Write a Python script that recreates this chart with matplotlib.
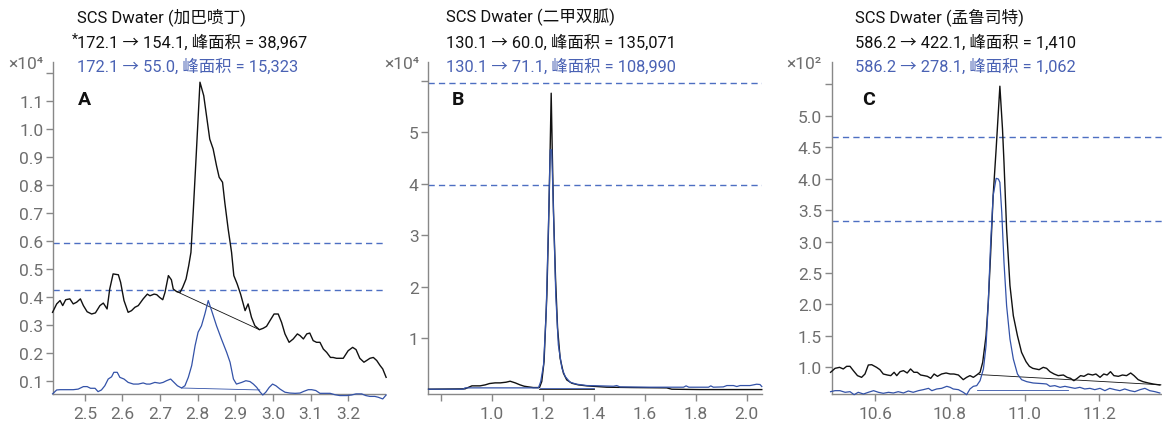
import matplotlib
matplotlib.use("Agg")
import matplotlib.pyplot as plt

FONTS = ["Roboto", "Noto Sans CJK SC", "DejaVu Sans"]
plt.rcParams["font.family"] = FONTS

BLACK = "#111111"
BLUE = "#3352a8"
TEXT_BLUE = "#4a62b4"
DASH = "#4d6fc2"
GREY = "#6e6e6e"
SPINE = "#888888"

# --- A: gabapentin (x10^4 counts) ---
a_black_t = [2.414, 2.425, 2.434, 2.441, 2.449, 2.460, 2.469, 2.478, 2.488, 2.496, 2.506, 2.518,
             2.528, 2.540, 2.549, 2.559, 2.566, 2.575, 2.589, 2.595, 2.604, 2.615, 2.624, 2.633,
             2.642, 2.655, 2.666, 2.673, 2.684, 2.691, 2.699, 2.707, 2.713, 2.722, 2.730, 2.735,
             2.744, 2.753, 2.760, 2.769, 2.776, 2.782, 2.788, 2.795, 2.806, 2.816, 2.832, 2.841,
             2.850, 2.857, 2.866, 2.872, 2.881, 2.890, 2.896, 2.905, 2.914, 2.926, 2.934, 2.943,
             2.952, 2.964, 2.974, 2.983, 2.992, 3.003, 3.014, 3.023, 3.032, 3.043, 3.054, 3.065,
             3.072, 3.081, 3.090, 3.098, 3.107, 3.116, 3.125, 3.134, 3.143, 3.153, 3.160, 3.169,
             3.178, 3.187, 3.200, 3.212, 3.221, 3.231, 3.242, 3.249, 3.258, 3.267, 3.276, 3.285,
             3.292, 3.301]
a_black_y = [0.345, 0.375, 0.387, 0.369, 0.390, 0.393, 0.375, 0.381, 0.393, 0.369, 0.347, 0.339,
             0.343, 0.369, 0.378, 0.357, 0.428, 0.482, 0.479, 0.452, 0.387, 0.345, 0.351, 0.363,
             0.369, 0.393, 0.410, 0.404, 0.410, 0.408, 0.398, 0.390, 0.416, 0.476, 0.461, 0.428,
             0.419, 0.416, 0.434, 0.464, 0.511, 0.559, 0.702, 0.880, 1.166, 1.118, 0.963, 0.928,
             0.868, 0.827, 0.809, 0.737, 0.642, 0.559, 0.476, 0.446, 0.410, 0.351, 0.375, 0.327,
             0.297, 0.283, 0.288, 0.295, 0.315, 0.339, 0.339, 0.309, 0.268, 0.238, 0.250, 0.268,
             0.262, 0.250, 0.268, 0.271, 0.244, 0.238, 0.238, 0.214, 0.202, 0.184, 0.184, 0.181,
             0.181, 0.181, 0.208, 0.220, 0.212, 0.181, 0.167, 0.173, 0.181, 0.184, 0.173, 0.155,
             0.143, 0.113]
a_blue_t = [2.414, 2.425, 2.434, 2.451, 2.469, 2.482, 2.496, 2.506, 2.515, 2.527, 2.535, 2.544,
            2.553, 2.562, 2.571, 2.577, 2.586, 2.593, 2.604, 2.615, 2.629, 2.642, 2.655, 2.664,
            2.673, 2.686, 2.699, 2.708, 2.717, 2.728, 2.737, 2.746, 2.757, 2.766, 2.775, 2.784,
            2.793, 2.801, 2.810, 2.819, 2.828, 2.837, 2.850, 2.863, 2.877, 2.886, 2.895, 2.903,
            2.917, 2.928, 2.939, 2.948, 2.957, 2.965, 2.973, 2.981, 2.990, 2.999, 3.008, 3.019,
            3.032, 3.045, 3.059, 3.072, 3.082, 3.094, 3.103, 3.114, 3.125, 3.138, 3.152, 3.165,
            3.178, 3.196, 3.209, 3.221, 3.236, 3.247, 3.258, 3.271, 3.280, 3.292, 3.301]
a_blue_y = [0.054, 0.068, 0.069, 0.069, 0.069, 0.071, 0.080, 0.080, 0.074, 0.074, 0.062, 0.068,
            0.083, 0.107, 0.115, 0.131, 0.131, 0.113, 0.107, 0.095, 0.089, 0.089, 0.093, 0.089,
            0.089, 0.095, 0.092, 0.095, 0.101, 0.107, 0.095, 0.083, 0.075, 0.083, 0.113, 0.155,
            0.226, 0.274, 0.297, 0.339, 0.387, 0.351, 0.297, 0.250, 0.202, 0.167, 0.107, 0.089,
            0.095, 0.101, 0.098, 0.089, 0.077, 0.062, 0.050, 0.060, 0.077, 0.089, 0.083, 0.071,
            0.060, 0.057, 0.056, 0.057, 0.063, 0.069, 0.069, 0.066, 0.056, 0.056, 0.056, 0.051,
            0.048, 0.048, 0.050, 0.054, 0.054, 0.048, 0.045, 0.045, 0.042, 0.036, 0.050]
a_base_black = ([2.744, 2.964], [0.419, 0.283])
a_base_blue = ([2.757, 2.965], [0.075, 0.068])
a_thresholds = [0.593, 0.423]

# --- B: metformin (x10^4 counts) ---
b_black_t = [0.752, 0.895, 0.922, 0.954, 0.974, 0.991, 1.013, 1.033, 1.056, 1.072, 1.092, 1.111,
             1.127, 1.144, 1.163, 1.187, 1.196, 1.205, 1.216, 1.224, 1.229, 1.233, 1.237, 1.242,
             1.250, 1.258, 1.268, 1.281, 1.294, 1.314, 1.340, 1.373, 1.412, 1.451, 1.556, 1.686,
             1.706, 1.817, 2.059]
b_black_y = [0.013, 0.020, 0.078, 0.078, 0.097, 0.123, 0.136, 0.136, 0.149, 0.168, 0.136, 0.097,
             0.071, 0.058, 0.045, 0.045, 0.162, 0.550, 1.840, 3.460, 4.690, 5.760, 4.690, 3.460,
             2.170, 1.200, 0.615, 0.324, 0.194, 0.129, 0.097, 0.078, 0.065, 0.052, 0.045, 0.039,
             0.013, 0.006, 0.006]
b_blue_t = [0.752, 0.888, 0.895, 1.033, 1.183, 1.192, 1.203, 1.213, 1.222, 1.229, 1.235, 1.242,
            1.251, 1.261, 1.275, 1.288, 1.307, 1.333, 1.373, 1.425, 1.477, 1.490, 1.503, 1.621,
            1.752, 1.762, 1.773, 1.850, 1.859, 1.869, 1.908, 1.922, 1.948, 1.961, 1.974, 2.013,
            2.039, 2.052, 2.059]
b_blue_y = [0.013, 0.013, 0.039, 0.039, 0.039, 0.162, 0.485, 1.456, 3.140, 4.660, 4.660, 3.460,
            1.840, 0.874, 0.421, 0.259, 0.149, 0.110, 0.084, 0.078, 0.071, 0.084, 0.058, 0.052,
            0.052, 0.078, 0.052, 0.052, 0.078, 0.052, 0.058, 0.084, 0.084, 0.065, 0.084, 0.084,
            0.110, 0.104, 0.065]
b_base_black = ([1.187, 1.400], [0.020, 0.020])
b_base_blue = ([1.190, 1.400], [0.030, 0.030])
b_thresholds = [5.95, 3.98]

# --- C: montelukast (x10^2 counts) ---
c_black_t = [10.481, 10.493, 10.505, 10.515, 10.524, 10.533, 10.542, 10.553, 10.564, 10.573,
             10.582, 10.591, 10.604, 10.613, 10.622, 10.633, 10.642, 10.651, 10.658, 10.667,
             10.676, 10.686, 10.695, 10.704, 10.713, 10.722, 10.731, 10.740, 10.749, 10.758,
             10.767, 10.778, 10.790, 10.801, 10.811, 10.823, 10.836, 10.845, 10.854, 10.863,
             10.872, 10.881, 10.888, 10.897, 10.903, 10.909, 10.916, 10.924, 10.934, 10.941,
             10.945, 10.952, 10.961, 10.970, 10.981, 10.992, 11.004, 11.013, 11.022, 11.030,
             11.039, 11.050, 11.059, 11.068, 11.079, 11.090, 11.104, 11.114, 11.123, 11.132,
             11.141, 11.150, 11.159, 11.170, 11.182, 11.191, 11.202, 11.212, 11.221, 11.230,
             11.239, 11.251, 11.262, 11.273, 11.284, 11.293, 11.304, 11.317, 11.331, 11.344,
             11.362]
c_black_y = [0.921, 0.984, 1.000, 0.974, 1.016, 1.016, 0.947, 0.868, 0.841, 0.894,
             1.037, 1.042, 1.000, 0.963, 0.894, 0.878, 0.868, 0.921, 0.868, 0.931,
             0.947, 0.910, 0.974, 0.921, 0.921, 0.878, 0.868, 0.857, 0.825, 0.894,
             0.857, 0.894, 0.910, 0.894, 0.894, 0.878, 0.804, 0.841, 0.868, 0.841,
             0.878, 0.921, 1.079, 1.503, 2.033, 2.775, 3.729, 4.471, 5.470, 4.790,
             4.260, 3.200, 2.300, 1.820, 1.503, 1.238, 1.090, 1.016, 0.984, 0.974,
             0.963, 1.000, 0.984, 0.931, 0.894, 0.868, 0.878, 0.841, 0.825, 0.788,
             0.825, 0.868, 0.857, 0.894, 0.878, 0.894, 0.841, 0.894, 0.878, 0.931,
             0.868, 0.857, 0.878, 0.868, 0.910, 0.868, 0.804, 0.772, 0.751, 0.735,
             0.719]
c_blue_t = [10.481, 10.493, 10.506, 10.520, 10.533, 10.544, 10.555, 10.569, 10.582, 10.596,
            10.609, 10.622, 10.636, 10.649, 10.662, 10.676, 10.689, 10.702, 10.716, 10.729,
            10.743, 10.752, 10.765, 10.778, 10.792, 10.801, 10.809, 10.823, 10.836, 10.845,
            10.854, 10.863, 10.872, 10.881, 10.890, 10.897, 10.903, 10.909, 10.916, 10.924,
            10.930, 10.934, 10.939, 10.945, 10.952, 10.961, 10.970, 10.981, 10.992, 11.006,
            11.023, 11.050, 11.059, 11.068, 11.081, 11.095, 11.108, 11.121, 11.135, 11.148,
            11.161, 11.175, 11.188, 11.202, 11.215, 11.228, 11.242, 11.255, 11.268, 11.282,
            11.295, 11.309, 11.322, 11.335, 11.349, 11.362]
c_blue_y = [0.613, 0.629, 0.629, 0.603, 0.613, 0.565, 0.603, 0.576, 0.603, 0.629,
            0.603, 0.587, 0.603, 0.592, 0.613, 0.592, 0.624, 0.603, 0.629, 0.645,
            0.666, 0.629, 0.656, 0.666, 0.698, 0.682, 0.656, 0.645, 0.603, 0.565,
            0.656, 0.698, 0.709, 0.788, 0.974, 1.344, 2.033, 2.934, 3.729, 4.005,
            3.994, 3.941, 3.464, 2.669, 1.980, 1.450, 1.132, 0.894, 0.804, 0.772,
            0.751, 0.740, 0.735, 0.698, 0.709, 0.682, 0.698, 0.682, 0.666, 0.682,
            0.656, 0.666, 0.645, 0.666, 0.629, 0.666, 0.645, 0.629, 0.656, 0.629,
            0.613, 0.645, 0.666, 0.629, 0.613, 0.592]
c_base_black = ([10.878, 11.365], [0.885, 0.722])
c_base_blue = ([10.872, 11.117], [0.645, 0.645])
c_thresholds = [4.67, 3.32]

panels = [
    dict(rect=(53.3, 385.0), xlim=(2.416, 3.298), ylim=(0.0536, 1.237),
         xticks=[2.5, 2.6, 2.7, 2.8, 2.9, 3.0, 3.1, 3.2],
         xlabels=["2.5", "2.6", "2.7", "2.8", "2.9", "3.0", "3.1", "3.2"],
         yticks=[0.1, 0.2, 0.3, 0.4, 0.5, 0.6, 0.7, 0.8, 0.9, 1.0, 1.1, 1.2],
         ylabels=["0.1", "0.2", "0.3", "0.4", "0.5", "0.6", "0.7", "0.8", "0.9", "1.0", "1.1", ""],
         black=(a_black_t, a_black_y), blue=(a_blue_t, a_blue_y),
         base_black=a_base_black, base_blue=a_base_blue, thresholds=a_thresholds,
         scale="×10⁴", scale_x=8, letter="A", letter_x=78, text_x=77,
         lines=["SCS Dwater (加巴喷丁)",
                "*172.1 → 154.1, 峰面积 = 38,967",
                "172.1 → 55.0, 峰面积 = 15,323"]),
    dict(rect=(428.3, 762.3), xlim=(0.751, 2.061), ylim=(-0.08, 6.36),
         xticks=[0.8, 1.0, 1.2, 1.4, 1.6, 1.8, 2.0],
         xlabels=["", "1.0", "1.2", "1.4", "1.6", "1.8", "2.0"],
         yticks=[1, 2, 3, 4, 5, 6],
         ylabels=["1", "2", "3", "4", "5", ""],
         black=(b_black_t, b_black_y), blue=(b_blue_t, b_blue_y),
         base_black=b_base_black, base_blue=b_base_blue, thresholds=b_thresholds,
         scale="×10⁴", scale_x=384, letter="B", letter_x=452, text_x=446,
         lines=["SCS Dwater (二甲双胍)",
                "130.1 → 60.0, 峰面积 = 135,071",
                "130.1 → 71.1, 峰面积 = 108,990"]),
    dict(rect=(831.7, 1161.7), xlim=(10.484, 11.367), ylim=(0.576, 5.85),
         xticks=[10.6, 10.8, 11.0, 11.2],
         xlabels=["10.6", "10.8", "11.0", "11.2"],
         yticks=[1.0, 1.5, 2.0, 2.5, 3.0, 3.5, 4.0, 4.5, 5.0, 5.5],
         ylabels=["1.0", "1.5", "2.0", "2.5", "3.0", "3.5", "4.0", "4.5", "5.0", ""],
         black=(c_black_t, c_black_y), blue=(c_blue_t, c_blue_y),
         base_black=c_base_black, base_blue=c_base_blue, thresholds=c_thresholds,
         scale="×10²", scale_x=786, letter="C", letter_x=862, text_x=855,
         lines=["SCS Dwater (孟鲁司特)",
                "586.2 → 422.1, 峰面积 = 1,410",
                "586.2 → 278.1, 峰面积 = 1,062"]),
]

W, H = 1162, 427
fig = plt.figure(figsize=(W / 100, H / 100), dpi=100)

top_px, bottom_px = 63.3, 395.0
for p in panels:
    left, right = p["rect"]
    ax = fig.add_axes([left / W, 1 - bottom_px / H, (right - left) / W, (bottom_px - top_px) / H])
    ax.plot(*p["black"], color=BLACK, lw=1.0, clip_on=False, zorder=3)
    ax.plot(*p["blue"], color=BLUE, lw=0.9, clip_on=False, zorder=4)
    ax.plot(*p["base_black"], color=BLACK, lw=0.6, zorder=3)
    ax.plot(*p["base_blue"], color=BLUE, lw=0.6, zorder=4)
    for th in p["thresholds"]:
        ax.axhline(th, color=DASH, lw=1.0, ls=(0, (4.5, 3)), zorder=2)

    ax.set_xlim(*p["xlim"])
    ax.set_ylim(*p["ylim"])
    ax.set_xticks(p["xticks"])
    ax.set_xticklabels(p["xlabels"])
    ax.set_yticks(p["yticks"])
    ax.set_yticklabels(p["ylabels"])
    for s in ["top", "right"]:
        ax.spines[s].set_visible(False)
    for s in ["left", "bottom"]:
        ax.spines[s].set_color(SPINE)
        ax.spines[s].set_linewidth(1.0)
    ax.tick_params(colors=SPINE, labelcolor=GREY, labelsize=12.5, length=5, width=1.0)
    ax.tick_params(axis="x", pad=4)
    ax.tick_params(axis="y", pad=2)

    # intensity multiplier above the y axis
    fig.text(p["scale_x"] / W, 1 - 65 / H, p["scale"], color=GREY, fontsize=12.5,
             ha="left", va="center", family=["Roboto", "DejaVu Sans"])
    # panel letter
    fig.text(p["letter_x"] / W, 1 - 100 / H, p["letter"], color=BLACK, fontsize=14,
             fontweight="bold", ha="left", va="center")

    # compound name and the two transitions with their peak areas
    x0 = p["text_x"]
    fig.text(x0 / W, 1 - 17 / H, p["lines"][0], color=BLACK, fontsize=12, ha="left", va="center")
    line2 = p["lines"][1]
    if line2.startswith("*"):
        fig.text((x0 + 1) / W, 1 - 40 / H, "*", color=BLACK, fontsize=10, ha="right", va="center")
        line2 = line2[1:]
    fig.text(x0 / W, 1 - 43 / H, line2, color=BLACK, fontsize=11.8, ha="left", va="center")
    fig.text(x0 / W, 1 - 67 / H, p["lines"][2], color=TEXT_BLUE, fontsize=11.8, ha="left", va="center")

fig.savefig("out.png", dpi=100)
